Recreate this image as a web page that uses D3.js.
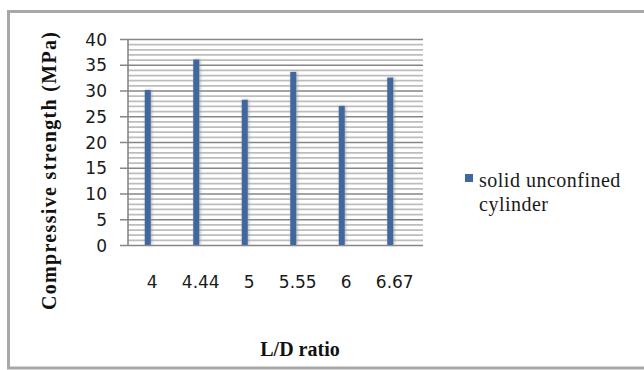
<!DOCTYPE html>
<html>
<head>
<meta charset="utf-8">
<script src="https://cdn.jsdelivr.net/npm/d3@7"></script>
<style>
  html, body { margin: 0; padding: 0; background: #ffffff; }
  svg { display: block; }
  .serif { font-family: "Liberation Serif", "Times New Roman", serif; }
  .tick-font { font-family: "DejaVu Sans", Verdana, sans-serif; }
</style>
</head>
<body>
<svg id="chart" width="644" height="370"></svg>
<script>
// L/D ratio categories and measured compressive strength (MPa)
const categories = ["4", "4.44", "5", "5.55", "6", "6.67"];
const strength = [30.1, 36.0, 28.2, 33.6, 27.0, 32.5];
const yTicks = [0, 5, 10, 15, 20, 25, 30, 35, 40];
const seriesName = ["solid unconfined", "cylinder"];

const svg = d3.select("#chart");

// outer chart frame
svg.append("rect")
  .attr("x", 8.5).attr("y", 11.5)
  .attr("width", 660).attr("height", 356.5)
  .attr("fill", "none")
  .attr("stroke", "#a8a8a8")
  .attr("stroke-width", 3);

const plot = { left: 128, right: 423, top: 39, bottom: 245 };

const y = d3.scaleLinear().domain([0, 40]).range([plot.bottom, plot.top]);
const x = d3.scaleBand().domain(categories).range([plot.left, plot.left + 291]);

const defs = svg.append("defs");
const shadow = defs.append("filter").attr("id", "barShadow")
  .attr("x", "-200%").attr("y", "-5%").attr("width", "500%").attr("height", "110%");
shadow.append("feDropShadow")
  .attr("dx", 1).attr("dy", 0)
  .attr("stdDeviation", 1.6)
  .attr("flood-color", "#9a9a9a")
  .attr("flood-opacity", 0.8);

// minor gridlines every 1 MPa
const minor = d3.range(0, 41, 1).filter(v => v % 5 !== 0);
svg.append("g").selectAll("line").data(minor).join("line")
  .attr("x1", plot.left).attr("x2", plot.right)
  .attr("y1", d => y(d) + 0.5).attr("y2", d => y(d) + 0.5)
  .attr("stroke", "#bdbdbd")
  .attr("stroke-width", 1.7);

// major gridlines with tick marks reaching past the axis
svg.append("g").selectAll("line").data(yTicks).join("line")
  .attr("x1", plot.left - 8).attr("x2", plot.right)
  .attr("y1", d => y(d) + 0.5).attr("y2", d => y(d) + 0.5)
  .attr("stroke", "#868686")
  .attr("stroke-width", 1.5);

// vertical axis line
svg.append("line")
  .attr("x1", plot.left).attr("x2", plot.left)
  .attr("y1", plot.top).attr("y2", plot.bottom)
  .attr("stroke", "#868686").attr("stroke-width", 1.6);

// bars
const barW = 6;
svg.append("g").selectAll("rect").data(strength).join("rect")
  .attr("x", (d, i) => x(categories[i]) + x.bandwidth() / 2 - 4.5 - barW / 2)
  .attr("y", d => y(d))
  .attr("width", barW)
  .attr("height", d => y(0) - y(d))
  .attr("fill", "#3f689f")
  .attr("filter", "url(#barShadow)");

// y tick labels
const yAxis = d3.axisLeft(y).tickValues(yTicks).tickSize(0).tickPadding(0);
const gy = svg.append("g").attr("transform", `translate(107,0)`).call(yAxis);
gy.select(".domain").remove();
gy.selectAll("text")
  .attr("class", "tick-font")
  .attr("font-size", 17)
  .attr("fill", "#1a1a1a")
  .attr("dy", "0.36em");

// x tick labels
const xAxis = d3.axisBottom(x).tickSize(0).tickPadding(0);
const gx = svg.append("g").attr("transform", `translate(0,288)`).call(xAxis);
gx.select(".domain").remove();
gx.selectAll("text")
  .attr("class", "tick-font")
  .attr("font-size", 17)
  .attr("fill", "#1a1a1a")
  .attr("dy", 0)
  .attr("y", 0);

// axis titles
svg.append("text")
  .attr("class", "serif")
  .attr("transform", "translate(56,171) rotate(-90)")
  .attr("text-anchor", "middle")
  .attr("font-weight", "bold")
  .attr("font-size", 20)
  .attr("textLength", 278)
  .attr("lengthAdjust", "spacing")
  .attr("fill", "#111")
  .text("Compressive strength (MPa)");

svg.append("text")
  .attr("class", "serif")
  .attr("x", 300).attr("y", 356)
  .attr("text-anchor", "middle")
  .attr("font-weight", "bold")
  .attr("font-size", 20)
  .attr("fill", "#111")
  .text("L/D ratio");

// legend
const legend = svg.append("g");
legend.append("rect")
  .attr("x", 465).attr("y", 174)
  .attr("width", 8).attr("height", 8)
  .attr("fill", "#3f689f");
legend.selectAll("text").data(seriesName).join("text")
  .attr("class", "serif")
  .attr("x", 479)
  .attr("y", (d, i) => 187 + i * 23.5)
  .attr("font-size", 20)
  .attr("letter-spacing", 0.5)
  .attr("fill", "#1a1a1a")
  .text(d => d);
</script>
</body>
</html>
